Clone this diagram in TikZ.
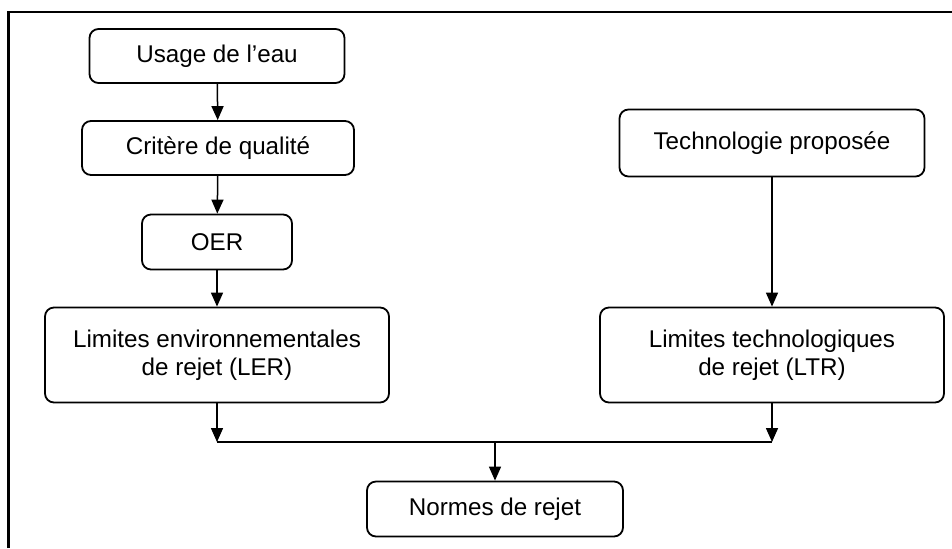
\documentclass[tikz,border=0pt]{standalone}
\usepackage{fontspec}
\setmainfont{Liberation Sans}
\usetikzlibrary{arrows.meta}
\begin{document}
\begin{tikzpicture}[x = 0.5pt, y = -0.5pt,
                box/.style = {draw, line width = 0.9pt, rounded corners = 4.5pt, align = center,
                              inner sep = 0pt, font = \fontsize{12.1}{14}\selectfont},
                link/.style = {line width = 0.75pt, -{Triangle[length = 7pt, width = 6pt]}}]
                \useasboundingbox (0,0) rectangle (952,548);
                \draw[line width = 1.2pt] (8.5,548) -- (8.5,12) -- (952,12);

                \node[box, minimum width = 127.5pt, minimum height = 27pt] (usage) at (217,56) {Usage de l’eau};
                \node[box, minimum width = 136pt, minimum height = 27pt] (critere) at (218,148) {Critère de qualité};
                \node[box, minimum width = 75pt, minimum height = 27.5pt] (oer) at (217,242) {OER};
                \node[box, minimum width = 172pt, minimum height = 47.5pt] (ler) at (217,355) {Limites environnementales\\de rejet (LER)};
                \node[box, minimum width = 152.5pt, minimum height = 33.5pt] (techno) at (772,143) {Technologie proposée};
                \node[box, minimum width = 172pt, minimum height = 47.5pt] (ltr) at (772,355) {Limites technologiques\\de rejet (LTR)};
                \node[box, minimum width = 128pt, minimum height = 27.5pt] (normes) at (495,509) {Normes de rejet};

                \coordinate (jl) at (217,442);
                \coordinate (jr) at (772,442);
                \coordinate (jm) at (495,442);

                \draw[link] (usage) -- (critere);
                \draw[link] (critere) -- (oer);
                \draw[link] (oer) -- (ler);
                \draw[link] (techno) -- (ltr);
                \draw[link] (ler) -- (jl);
                \draw[link] (ltr) -- (jr);
                \draw[line width = 0.75pt] (jl) -- (jr);
                \draw[link] (jm) -- (normes);

            \end{tikzpicture}
\end{document}
